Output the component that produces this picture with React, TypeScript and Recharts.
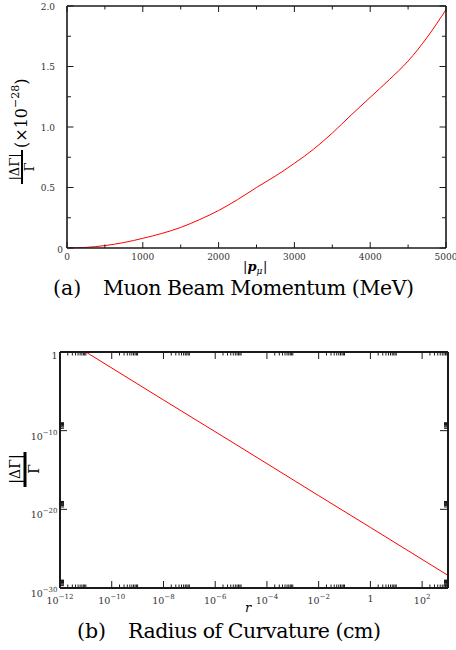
import React from "react";
import { LineChart, Line, XAxis, YAxis } from "recharts";

// (a) decay rate shift vs muon beam momentum
const momentum = [0, 250, 500, 750, 1000, 1250, 1500, 1750, 2000, 2250, 2500, 2750, 3000, 3250, 3500, 3750, 4000, 4250, 4500, 4750, 5000];
const shiftA = [0, 0.005, 0.02, 0.045, 0.08, 0.12, 0.17, 0.235, 0.31, 0.4, 0.5, 0.595, 0.7, 0.815, 0.95, 1.1, 1.245, 1.39, 1.545, 1.74, 1.97];

// (b) decay rate shift vs radius of curvature (log-log)
const radius = [1e-11, 1e-8, 1e-5, 1e-2, 1, 1e3];
const shiftB = [1, 8e-7, 7e-13, 5.5e-19, 5e-23, 4e-29];

// tick marks and labels
const xMajorsA = [0, 1000, 2000, 3000, 4000, 5000];
const xMinorsA = [500, 1500, 2500, 3500, 4500];
const xLabelsA = ["0", "1000", "2000", "3000", "4000", "5000"];
const yMajorsA = [0, 0.5, 1, 1.5, 2];
const yMinorsA = [0.25, 0.75, 1.25, 1.75];
const yLabelsA = ["0", "0.5", "1.0", "1.5", "2.0"];

const xMajorsB = [1e-12, 1e-10, 1e-8, 1e-6, 1e-4, 1e-2, 1, 1e2];
const xLabelsB = [["10", "−12"], ["10", "−10"], ["10", "−8"], ["10", "−6"], ["10", "−4"], ["10", "−2"], ["1", ""], ["10", "2"]];
const yMajorsB = [1e-30, 1e-20, 1e-10, 1];
const yLabelsB = [["10", "−30"], ["10", "−20"], ["10", "−10"], ["1", ""]];
const logMinorSteps = [2, 3, 4, 5, 6, 7, 8, 9, 10];

const xMinorsB = xMajorsB.flatMap((m) => logMinorSteps.map((k) => k * m));
const yMinorsB = [1e-30, 1e-20, 1e-10].flatMap((m) => logMinorSteps.map((k) => k * m));

const dataA = momentum.map((p, i) => ({ p, v: shiftA[i] }));
const dataB = radius.map((r, i) => ({ r, v: shiftB[i] }));

const INK = "#1a1a1a";
const FONT = "DejaVu Serif";

type Side = "bottom" | "top" | "left" | "right";

// inward tick marks, drawn from the axis line (tickSize/tickMargin are 0)
function makeTick(
  side: Side,
  majors: number[],
  majorLen: number,
  minorLen: number,
  label?: (v: number, x: number, y: number) => React.ReactNode
) {
  return (props: any) => {
    const { x, y, payload } = props;
    const v = payload.value;
    const major = majors.includes(v);
    const len = major ? majorLen : minorLen;
    let x2 = x;
    let y2 = y;
    if (side === "bottom") y2 = y - len;
    if (side === "top") y2 = y + len;
    if (side === "left") x2 = x + len;
    if (side === "right") x2 = x - len;
    return (
      <g>
        <line x1={x} y1={y} x2={x2} y2={y2} stroke={INK} strokeWidth={1} />
        {major && label ? label(v, x, y) : null}
      </g>
    );
  };
}

const labelXA = (v: number, x: number, y: number) => (
  <text x={x} y={y + 11.5} textAnchor="middle" fontSize={9} fontFamily={FONT} fill="#333">
    {xLabelsA[xMajorsA.indexOf(v)]}
  </text>
);

const labelYA = (v: number, x: number, y: number) => (
  <text x={v === 0 ? x - 4 : x - 12} y={y + (v === 0 ? 5 : 3.5)} textAnchor="end" fontSize={9} fontFamily={FONT} fill="#333">
    {yLabelsA[yMajorsA.indexOf(v)]}
  </text>
);

const labelXB = (v: number, x: number, y: number) => {
  const [b, e] = xLabelsB[xMajorsB.indexOf(v)];
  return (
    <text x={x} y={y + (e ? 15.5 : 14)} textAnchor="middle" fontSize={9.5} fontFamily={FONT} fill="#333">
      {b}
      {e ? <tspan fontSize={7} dy={-4.5}>{e}</tspan> : null}
    </text>
  );
};

const labelYB = (v: number, x: number, y: number) => {
  const [b, e] = yLabelsB[yMajorsB.indexOf(v)];
  return (
    <text x={x - 2.5} y={y + (e ? 9 : 7)} textAnchor="end" fontSize={9.5} fontFamily={FONT} fill="#333">
      {b}
      {e ? <tspan fontSize={7} dy={-5}>{e}</tspan> : null}
    </text>
  );
};

const ticksXA = [...xMajorsA, ...xMinorsA];
const ticksYA = [...yMajorsA, ...yMinorsA];
const ticksXB = [...xMajorsB, ...xMinorsB];
const ticksYB = [...yMajorsB, ...yMinorsB];

function MomentumChart() {
  const frame = { stroke: INK, strokeWidth: 1.6 };
  const common = { tickSize: 0, tickMargin: 0, tickLine: false, interval: 0 as const, allowDataOverflow: true };
  return (
    <LineChart width={456} height={300} data={dataA} margin={{ top: 5, right: 9, left: 17, bottom: 32 }}>
      <XAxis xAxisId="b" dataKey="p" type="number" domain={[0, 5000]} ticks={ticksXA} height={20} axisLine={frame}
        tick={makeTick("bottom", xMajorsA, 6, 3.5, labelXA)} {...common} />
      <XAxis xAxisId="t" orientation="top" dataKey="p" type="number" domain={[0, 5000]} ticks={ticksXA} height={1} axisLine={frame}
        tick={makeTick("top", xMajorsA, 6, 3.5)} {...common} />
      <YAxis yAxisId="l" type="number" domain={[0, 2]} ticks={ticksYA} width={50} axisLine={frame}
        tick={makeTick("left", yMajorsA, 6.5, 4, labelYA)} {...common} />
      <YAxis yAxisId="r" orientation="right" type="number" domain={[0, 2]} ticks={ticksYA} width={1} axisLine={frame}
        tick={makeTick("right", yMajorsA, 6.5, 4)} {...common} />
      <Line xAxisId="b" yAxisId="l" type="monotone" dataKey="v" stroke="#ff0000" strokeWidth={1} dot={false} isAnimationActive={false} />
    </LineChart>
  );
}

function RadiusChart() {
  const frame = { stroke: INK, strokeWidth: 2 };
  const common = { tickSize: 0, tickMargin: 0, tickLine: false, interval: 0 as const, allowDataOverflow: true };
  return (
    <LineChart width={456} height={290} data={dataB} margin={{ top: 21, right: 7, left: 10, bottom: 0 }}>
      <XAxis xAxisId="b" dataKey="r" type="number" scale="log" domain={[1e-12, 1e3]} ticks={ticksXB} height={32} axisLine={frame}
        tick={makeTick("bottom", xMajorsB, 7, 3.5, labelXB)} {...common} />
      <XAxis xAxisId="t" orientation="top" dataKey="r" type="number" scale="log" domain={[1e-12, 1e3]} ticks={ticksXB} height={1} axisLine={frame}
        tick={makeTick("top", xMajorsB, 7, 3.5)} {...common} />
      <YAxis yAxisId="l" type="number" scale="log" domain={[1e-30, 1]} ticks={ticksYB} width={50} axisLine={frame}
        tick={makeTick("left", yMajorsB, 7, 4, labelYB)} {...common} />
      <YAxis yAxisId="r" orientation="right" type="number" scale="log" domain={[1e-30, 1]} ticks={ticksYB} width={1} axisLine={frame}
        tick={makeTick("right", yMajorsB, 8, 4)} {...common} />
      <Line xAxisId="b" yAxisId="l" type="linear" dataKey="v" stroke="#ff0000" strokeWidth={1} dot={false} isAnimationActive={false} />
    </LineChart>
  );
}

export default function App() {
  return (
    <div style={{ position: "absolute", left: 0, top: 0, width: 456, height: 650, background: "#fff" }}>
      <div style={{ position: "absolute", left: 0, top: 0 }}>
        <MomentumChart />
      </div>
      <div style={{ position: "absolute", left: 0, top: 330 }}>
        <RadiusChart />
      </div>
      <svg width={456} height={650} style={{ position: "absolute", left: 0, top: 0, pointerEvents: "none" }} fontFamily={FONT} fill="#000">
        {/* (a) y title */}
        <text transform="rotate(-90 19 167)" x={19} y={167} textAnchor="middle" fontSize={13}>|ΔΓ|</text>
        <line x1={22} y1={150} x2={22} y2={184} stroke="#000" strokeWidth={2} />
        <text transform="rotate(-90 34 167)" x={34} y={167} textAnchor="middle" fontSize={13}>Γ</text>
        <text transform="rotate(-90 27 148)" x={27} y={148} fontSize={16}>
          (×10<tspan fontSize={11} dy={-8}>−28</tspan><tspan dy={8}>)</tspan>
        </text>
        {/* (a) x title: |p_mu| */}
        <text x={243} y={271} fontSize={13}>|</text>
        <text x={247.5} y={271} fontSize={13} fontWeight="bold" fontStyle="italic">p</text>
        <text x={256.5} y={273.5} fontSize={9} fontStyle="italic">μ</text>
        <text x={263} y={271} fontSize={13}>|</text>
        <text x={53} y={295} fontSize={20.5}>(a)</text>
        <text x={103} y={295} fontSize={20.5} textLength={311} lengthAdjust="spacing">Muon Beam Momentum (MeV)</text>

        {/* (b) y title */}
        <text transform="rotate(-90 19.5 469)" x={19.5} y={469} textAnchor="middle" fontSize={14}>|ΔΓ|</text>
        <line x1={25} y1={452} x2={25} y2={487} stroke="#000" strokeWidth={3} />
        <text transform="rotate(-90 38.5 469)" x={38.5} y={469} textAnchor="middle" fontSize={14}>Γ</text>
        {/* (b) x title */}
        <text x={248} y={612} textAnchor="middle" fontSize={13} fontStyle="italic">r</text>
        <text x={77} y={638} fontSize={20.5}>(b)</text>
        <text x={128} y={638} fontSize={20.5} textLength={253} lengthAdjust="spacing">Radius of Curvature (cm)</text>
      </svg>
    </div>
  );
}
